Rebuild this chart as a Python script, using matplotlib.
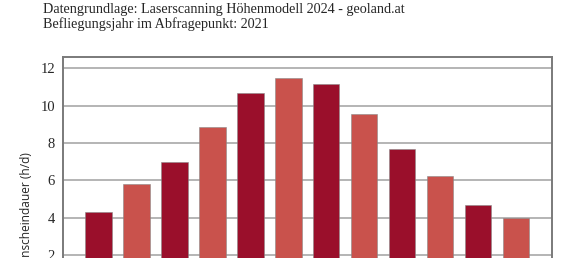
import numpy as np
import matplotlib.pyplot as plt

# monthly mean sunshine duration (h/d)
months = ["Jan", "Feb", "Mär", "Apr", "Mai", "Jun", "Jul", "Aug", "Sep", "Okt", "Nov", "Dez"]
sunshine = [4.28, 5.80, 7.00, 8.85, 10.69, 11.48, 11.14, 9.55, 7.66, 6.23, 4.68, 3.96]
y_ticks = [0, 2, 4, 6, 8, 10, 12]

DARK = "#9a0f2b"
LIGHT = "#c9524c"
TXT = "#262626"

W, H = 579, 258
fig = plt.figure(figsize=(W / 100, H / 100), dpi=100)

# axes runs past the bottom edge of the picture (the reference is cut off there)
ax = fig.add_axes([62.7 / W, 1 - 292.3 / H, 489.0 / W, (292.3 - 56.7) / H])

x = np.arange(len(months))
colors = [DARK if i % 2 == 0 else LIGHT for i in range(len(months))]
ax.bar(x, sunshine, width=0.70, color=colors, edgecolor="#8a8a8a", linewidth=0.4, zorder=3)

ax.set_xlim(-0.94, 11.94)
ax.set_ylim(0, 12.62)
ax.set_yticks(y_ticks)
ax.set_xticks(x)
ax.set_xticklabels(months)
ax.yaxis.grid(True, color="#b4b4b4", linewidth=1.4, zorder=0)
ax.tick_params(length=0, pad=5.5, labelsize=10.5, labelcolor=TXT)
for lab in ax.get_yticklabels() + ax.get_xticklabels():
    lab.set_fontfamily("Liberation Serif")
for s in ax.spines.values():
    s.set_color("#7a7a7a")
    s.set_linewidth(1.4)

fig.text(27 / W, 1 - 152 / H, "Sonnenscheindauer (h/d)", rotation=90,
         ha="center", va="top", fontsize=8.6, family="Open Sans", color=TXT)

fig.text(43 / W, 1 - 13.3 / H, "Datengrundlage: Laserscanning Höhenmodell 2024 - geoland.at",
         ha="left", va="baseline", fontsize=10.2, family="Liberation Serif", color=TXT)
fig.text(43 / W, 1 - 28.3 / H, "Befliegungsjahr im Abfragepunkt: 2021",
         ha="left", va="baseline", fontsize=10.2, family="Liberation Serif", color=TXT)

fig.savefig("out.png", dpi=100)
